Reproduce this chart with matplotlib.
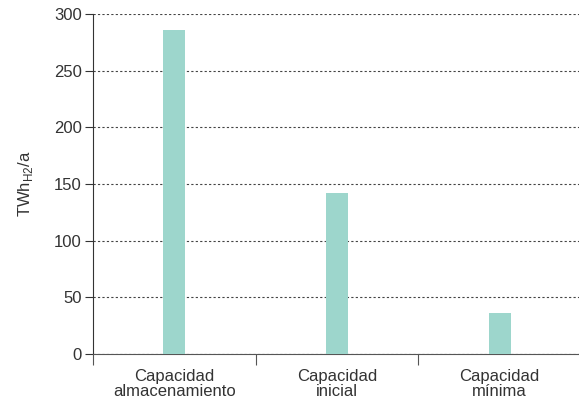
import matplotlib
matplotlib.use("Agg")
import matplotlib.pyplot as plt

plt.rcParams['font.family'] = ['Liberation Sans', 'DejaVu Sans']

categories = ["Capacidad\nalmacenamiento", "Capacidad\ninicial", "Capacidad\nmínima"]
values = [286, 142, 36]
yticks = [0, 50, 100, 150, 200, 250, 300]

fig = plt.figure(figsize=(5.79, 4.04), dpi=100)
ax = fig.add_axes([93/579, 50/404, 488/579, 340/404])

x = list(range(len(categories)))
ax.bar(x, values, width=0.135, color="#9dd6cc", zorder=3)

ax.set_xlim(-0.5, len(categories) - 0.5)
ax.set_ylim(0, 300)
ax.set_yticks(yticks)
ax.set_yticklabels([str(v) for v in yticks], fontsize=12, color="#333333")
ax.yaxis.grid(True, linestyle=(0, (2, 2)), color="#444444", linewidth=0.8, zorder=0)
ax.tick_params(axis='y', length=6, width=0.8, color="#333333", pad=2)

ax.set_xticks([i - 0.5 for i in range(len(categories))])
ax.set_xticklabels([])
ax.tick_params(axis='x', which='major', length=8, width=0.8, color="#555555")
ax.set_xticks(x, minor=True)
ax.set_xticklabels(categories, minor=True, fontsize=12, color="#333333", linespacing=0.95)
ax.tick_params(axis='x', which='minor', length=0, pad=11)

for s in ['top', 'right']:
    ax.spines[s].set_visible(False)
ax.spines['left'].set_color("#333333")
ax.spines['left'].set_linewidth(0.8)
ax.spines['bottom'].set_color("#555555")
ax.spines['bottom'].set_linewidth(0.8)

ax.set_ylabel(r"TWh$_{\mathregular{H2}}$/a", fontsize=12, color="#333333", labelpad=14)

fig.savefig("out.png", dpi=100)
